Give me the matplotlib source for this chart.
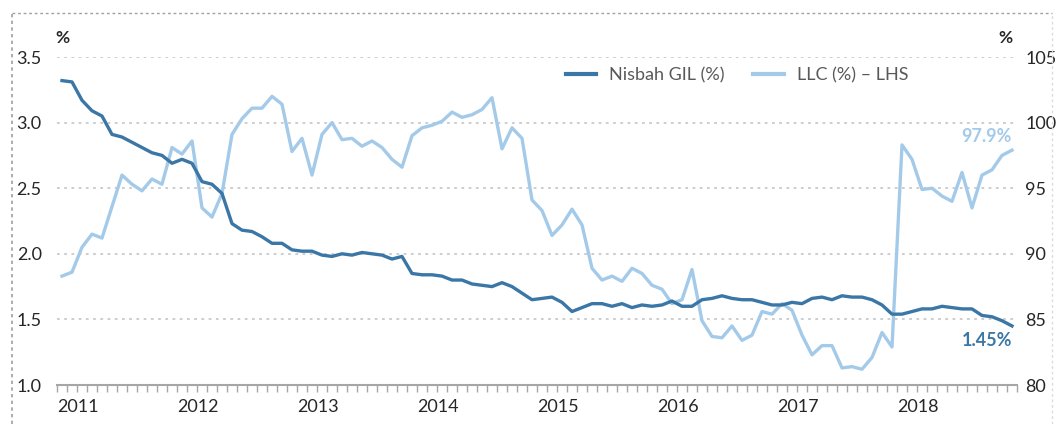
import matplotlib.pyplot as plt
from matplotlib.lines import Line2D
import numpy as np

plt.rcParams['font.family'] = ['Lato', 'DejaVu Sans']

years = ['2011', '2012', '2013', '2014', '2015', '2016', '2017', '2018']

# monthly, Jan 2011 .. Dec 2018
gil = [3.32, 3.31, 3.17, 3.09, 3.05, 2.91, 2.89, 2.85, 2.81, 2.77, 2.75, 2.69,
       2.72, 2.69, 2.55, 2.53, 2.46, 2.23, 2.18, 2.17, 2.13, 2.08, 2.08, 2.03,
       2.02, 2.02, 1.99, 1.98, 2.00, 1.99, 2.01, 2.00, 1.99, 1.96, 1.98, 1.85,
       1.84, 1.84, 1.83, 1.80, 1.80, 1.77, 1.76, 1.75, 1.78, 1.75, 1.70, 1.65,
       1.66, 1.67, 1.63, 1.56, 1.59, 1.62, 1.62, 1.60, 1.62, 1.59, 1.61, 1.60,
       1.61, 1.64, 1.60, 1.60, 1.65, 1.66, 1.68, 1.66, 1.65, 1.65, 1.63, 1.61,
       1.61, 1.63, 1.62, 1.66, 1.67, 1.65, 1.68, 1.67, 1.67, 1.65, 1.61, 1.54,
       1.54, 1.56, 1.58, 1.58, 1.60, 1.59, 1.58, 1.58, 1.53, 1.52, 1.49, 1.45]

llc = [88.3, 88.6, 90.5, 91.5, 91.2, 93.6, 96.0, 95.3, 94.8, 95.7, 95.3, 98.1,
       97.6, 98.6, 93.5, 92.8, 94.6, 99.1, 100.3, 101.1, 101.1, 102.0, 101.4, 97.8,
       98.8, 96.0, 99.1, 100.0, 98.7, 98.8, 98.2, 98.6, 98.1, 97.2, 96.6, 99.0,
       99.6, 99.8, 100.1, 100.8, 100.4, 100.6, 101.0, 101.9, 98.0, 99.6, 98.8, 94.1,
       93.3, 91.4, 92.2, 93.4, 92.2, 88.9, 88.0, 88.3, 87.9, 88.9, 88.5, 87.6,
       87.3, 86.2, 86.5, 88.8, 84.9, 83.7, 83.6, 84.5, 83.4, 83.8, 85.6, 85.4,
       86.2, 85.7, 83.8, 82.3, 83.0, 83.0, 81.3, 81.4, 81.2, 82.1, 84.0, 82.9,
       98.3, 97.2, 94.9, 95.0, 94.4, 94.0, 96.2, 93.5, 96.0, 96.4, 97.5, 97.9]

dark = '#3a76a6'
light = '#a4cae9'
txt = '#262626'

x = np.arange(len(gil))

fig = plt.figure(figsize=(10.58, 4.24), dpi=100)
ax = fig.add_axes([57 / 1058, 39 / 424, 960 / 1058, 328 / 424])
ax2 = ax.twinx()
ax.set_zorder(ax2.get_zorder() + 1)
ax.patch.set_visible(False)

ax2.plot(x, llc, color=light, lw=2.4, solid_joinstyle='round')
ax.plot(x, gil, color=dark, lw=2.4, solid_joinstyle='round')

ax.set_xlim(-0.5, len(gil) - 0.5)
ax.set_ylim(1.0, 3.5)
ax2.set_ylim(80, 105)
ax.set_yticks(np.arange(1.0, 3.51, 0.5))
ax.set_yticklabels([f'{v:.1f}' for v in np.arange(1.0, 3.51, 0.5)])
ax2.set_yticks(np.arange(80, 106, 5))

ax2.yaxis.grid(True, color='#c9c9c9', linestyle=(0, (1.5, 2.5)), lw=1.3)
ax2.set_axisbelow(True)

for a in (ax, ax2):
    for s in ('top', 'left', 'right', 'bottom'):
        a.spines[s].set_visible(False)
ax.spines['bottom'].set_visible(True)
ax.spines['bottom'].set_color('#a6a6a6')
ax.spines['bottom'].set_linewidth(1.5)

ax.tick_params(axis='y', length=0, pad=11, labelsize=13, labelcolor=txt)
ax2.tick_params(axis='y', length=0, pad=6, labelsize=13, labelcolor=txt)

ax.set_xticks([12 * k - 0.5 for k in range(len(years))])
ax.set_xticklabels(years, ha='left')
ax.set_xticks(np.arange(-0.5, len(gil), 1.0), minor=True)
ax.tick_params(axis='x', which='both', direction='out', length=5, width=1,
               color='#a6a6a6', labelsize=13, labelcolor=txt, pad=5)

fig.text(62 / 1058, 1 - 38 / 424, '%', ha='center', va='center', fontsize=12.5,
         fontweight='bold', color=txt)
fig.text(1005 / 1058, 1 - 38 / 424, '%', ha='center', va='center', fontsize=12.5,
         fontweight='bold', color=txt)

ax2.annotate(f'{llc[-1]:.1f}%', xy=(x[-1], llc[-1]), xytext=(0, 4),
             textcoords='offset points', ha='right', va='bottom', fontsize=13,
             fontweight='bold', color=light)
ax.annotate(f'{gil[-1]:.2f}%', xy=(x[-1], gil[-1]), xytext=(0, -4),
            textcoords='offset points', ha='right', va='top', fontsize=13,
            fontweight='bold', color=dark)

handles = [Line2D([], [], color=dark, lw=3),
           Line2D([], [], color=light, lw=3)]
fig.legend(handles, ['Nisbah GIL (%)', 'LLC (%) \u2013 LHS'], ncol=2,
           loc='center', bbox_to_anchor=(737 / 1058, 1 - 75 / 424),
           frameon=False, fontsize=13, labelcolor='#595959',
           handlelength=1.7, handletextpad=0.7, columnspacing=1.6)

# dotted frame round the chart
fig.add_artist(Line2D([12 / 1058, 12 / 1058], [0, 1 - 13 / 424],
                      transform=fig.transFigure, color='#a0a0a0', lw=1.2,
                      linestyle=(0, (2, 2))))
fig.add_artist(Line2D([12 / 1058, 1052 / 1058], [1 - 13 / 424, 1 - 13 / 424],
                      transform=fig.transFigure, color='#a0a0a0', lw=1.0,
                      linestyle=(0, (2, 2))))
fig.add_artist(Line2D([1052 / 1058, 1052 / 1058], [0, 1 - 13 / 424],
                      transform=fig.transFigure, color='#dcdcdc', lw=1.0,
                      linestyle=(0, (2, 2))))

fig.savefig('out.png', dpi=100)
